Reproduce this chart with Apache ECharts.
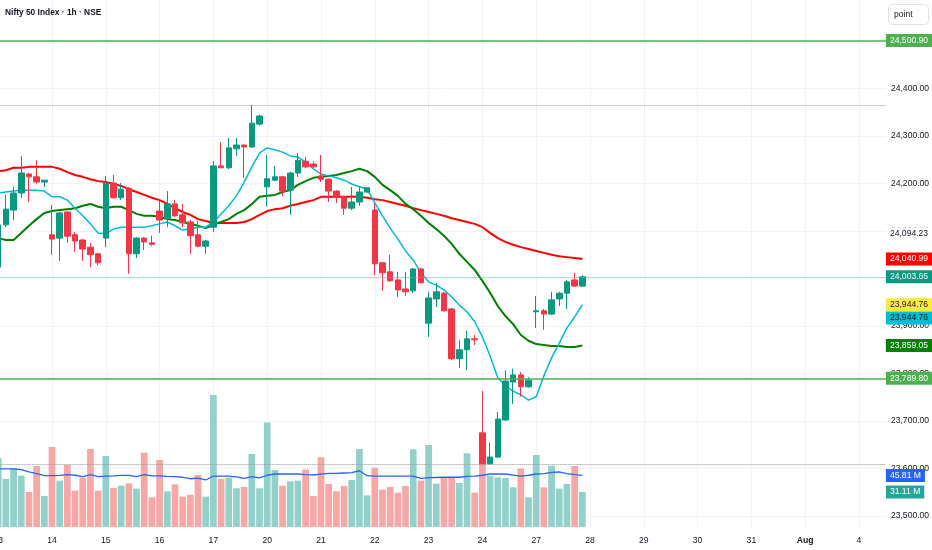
<!DOCTYPE html>
<html><head><meta charset="utf-8">
<script src="https://cdn.jsdelivr.net/npm/echarts@6/dist/echarts.min.js"></script>
<style>html,body{margin:0;padding:0;background:#fff}#c{width:932px;height:550px}</style>
</head><body><div id="c"></div>
<script>
// ---- data ----
const dayLabels = ['13','14','15','16','17','20','21','22','23','24','27'];
const futureLabels = ['28','29','30','31','Aug','4'];
const hours = ['09:15','10:15','11:15','12:15','13:15','14:15','15:15'];

const opens  = [24024,24113,24144,24180,24220,24214,24203, 24092,24085,24140,24092,24081,24066,24052, 24085,24201,24170,24190,24052,24085,24075, 24142,24127,24157,24134,24119,24092,24068, 24108,24237,24233,24273,24281,24277,24325, 24193,24207,24214,24186,24222,24247,24241, 24216,24209,24184,24172,24148,24161,24182, 24144,24033,24014,23997,23978,23974,24020, 23906,23957,23969,23936,23831,23850,23873, 23675,23610,23624,23702,23782,23797,23772, 23930,23932,23925,23957,23969,23997,23984];
const closes = [24113,24146,24180,24222,24214,24203,24207, 24083,24138,24089,24079,24062,24050,24033, 24201,24170,24188,24052,24085,24077,24072, 24123,24157,24132,24117,24090,24068,24079, 24237,24233,24275,24281,24277,24327,24342, 24210,24214,24184,24222,24249,24235,24235, 24209,24184,24172,24148,24161,24182,24191, 24031,24012,23995,23976,23972,24020,23991, 23959,23972,23932,23831,23850,23873,23871, 23610,23624,23704,23784,23797,23772,23786, 23932,23925,23955,23969,23993,23984,24003.65];
const highs  = [24120,24176,24193,24258,24222,24249,24208, 24155,24140,24141,24098,24083,24075,24054, 24216,24218,24201,24192,24087,24087,24090, 24163,24184,24165,24157,24123,24121,24081, 24247,24287,24296,24296,24282,24365,24345, 24260,24237,24216,24225,24264,24256,24247, 24260,24211,24186,24174,24193,24193,24193, 24159,24035,24050,24014,24014,24022,24022, 23972,23991,23972,23938,23871,23890,23881, 23763,23654,23719,23807,23810,23803,23793, 23963,23936,23972,23972,23997,24012,24007];
const lows   = [24010,24108,24123,24169,24161,24200,24193, 24050,24037,24075,24056,24037,24024,24028, 24066,24168,24165,24010,24043,24060,24068, 24096,24108,24130,24108,24052,24066,24052, 24098,24232,24230,24258,24212,24275,24322, 24151,24205,24174,24134,24214,24232,24233, 24203,24161,24159,24134,24144,24153,24180, 24007,23974,23993,23961,23963,23969,23989, 23877,23940,23930,23829,23812,23807,23860, 23608,23608,23622,23700,23736,23751,23770, 23896,23892,23923,23942,23936,23982,23982];

const maFast = [24180,24182,24184,24186,24186,24186,24184,24172,24172,24165,24148,24132,24115,24096,24094,24104,24108,24108,24108,24108,24111,24115,24119,24111,24102,24104,24108,24108,24119,24136,24153,24174,24203,24235,24264,24275,24271,24266,24258,24256,24245,24231,24220,24216,24212,24207,24199,24193,24188,24159,24132,24106,24083,24058,24039,24012,23993,23986,23976,23961,23944,23930,23909,23877,23837,23791,23774,23763,23755,23744,23751,23795,23833,23864,23896,23919,23944.76];
const maMid  = [24085,24081,24081,24096,24111,24125,24138,24142,24144,24146,24148,24153,24157,24151,24148,24151,24151,24144,24136,24132,24132,24130,24125,24123,24119,24115,24111,24106,24113,24119,24125,24136,24144,24157,24172,24174,24176,24182,24186,24197,24205,24212,24214,24216,24218,24222,24226,24231,24226,24214,24197,24186,24174,24157,24146,24132,24117,24104,24090,24073,24052,24035,24018,23995,23970,23942,23921,23904,23881,23869,23862,23860,23858,23858,23856,23856,23859.05];
const maSlow = [24226,24228,24233,24233,24235,24235,24235,24235,24231,24224,24218,24214,24209,24205,24203,24199,24195,24188,24182,24176,24170,24165,24157,24148,24140,24134,24125,24121,24117,24117,24117,24117,24119,24125,24134,24142,24146,24148,24153,24157,24161,24165,24172,24172,24172,24172,24172,24172,24170,24167,24165,24161,24157,24153,24148,24144,24140,24136,24132,24127,24123,24119,24115,24108,24096,24085,24077,24071,24066,24062,24058,24054,24050,24047,24045,24043,24040.99];

const volumesM = [61,42.7,52.4,45.6,31.1,54.2,27.6,71.1,41.2,55.1,32.3,43.9,69.3,32.3,63.1,34.7,36.7,38.8,34.1,66.1,26.4,59.6,31.7,37.9,27,28.7,46.2,27,117.3,42.7,43.9,34.4,35.6,64.9,34.4,93,50.7,36.7,40.6,41.2,51,27.6,62,38.2,31.7,36.4,41.8,69.3,28.1,52.7,33.2,35.6,30.5,36.4,69,41.2,72.9,38.5,43.9,43.9,39.1,65.5,30.5,78.2,45.6,44.1,43.6,35.3,52.1,26.4,64,35.3,54.5,34.1,38.2,54.2,31.11];
const volumeMA = [51.6,51.6,51.6,51,49,47.5,45.6,45.6,45.8,46.5,46,44.7,46.5,44.7,45.3,45.5,45.8,45.8,44.7,46.5,45.5,45.5,45,44.7,44.2,42.9,43.5,41.8,45.3,45.3,45.3,44.5,43.3,44.7,43.6,46,47.1,47.1,47.1,47.1,46.5,46.2,47,47.7,47.7,48,48.3,50,45.6,45.3,45.3,45.3,45.3,45.3,45.3,43.3,43.8,44,44.2,44.2,44.2,45,45.3,46,47.1,47.1,47.1,46.2,45.3,46,47.1,47.5,48.5,48.9,47.5,46.5,45.81];

const priceTicks = [23500,23600,23700,23800,23900,24000,24100,24200,24300,24400];
const levelLines = [24500.90, 23789.80];
const markerLevel = 24094.23;

// ---- build ----
const FONT = "'Liberation Sans', Arial, sans-serif";
const FS = 8.6;
const TXT = '#131722';
const UP = '#089981', DOWN = '#f23645';
const allDays = dayLabels.concat(futureLabels);
const N_SLOTS = 116;
const categories = [];
for (let k = 0; k < N_SLOTS; k++) categories.push(allDays[Math.floor(k / 7)] + ' ' + hours[k % 7]);
const dayStarts = allDays.map((d, i) => i * 7).filter(i => i < N_SLOTS);

function fmt2(v) {
  const s = v.toFixed(2).split('.');
  return s[0].replace(/\B(?=(\d{3})+(?!\d))/g, ',') + '.' + s[1];
}
const candleData = opens.map((o, i) => [o, closes[i], lows[i], highs[i]]);
const volData = volumesM.map((v, i) => ({ value: v, itemStyle: { color: closes[i] >= opens[i] ? '#92d1ca' : '#f7a8a6' } }));
const last = closes.length - 1;
const hi = Math.max.apply(null, highs), lo = Math.min.apply(null, lows);

function tag(value, text, bg, fg) {
  return {
    yAxis: value,
    lineStyle: { color: 'rgba(0,0,0,0)', width: 0, opacity: 1 },
    label: { show: true, position: 'end', distance: 0, formatter: text, color: fg, backgroundColor: bg, opacity: 1,
      padding: [2, 4, 1, 4], fontSize: FS, lineHeight: 10, fontFamily: FONT }
  };
}

const chart = echarts.init(document.getElementById('c'));
chart.setOption({
  animation: false,
  backgroundColor: '#ffffff',
  title: { text: 'Nifty 50 Index · 1h · NSE', left: 5, top: 9, padding: 0,
    textStyle: { fontSize: 8.4, fontWeight: 'bold', color: TXT, fontFamily: FONT } },
  graphic: [
    { type: 'rect', shape: { x: 888.5, y: 4.5, width: 40, height: 20, r: 4 }, style: { fill: '#fff', stroke: '#e0e3eb', lineWidth: 1 } },
    { type: 'text', x: 894, y: 14.5, style: { text: 'point', fontSize: FS, fill: TXT, verticalAlign: 'middle', fontFamily: FONT } }
  ],
  grid: [
    { left: -5.64, right: 46.1, top: 0, bottom: 22, outerBoundsMode: 'none' },
    { left: -5.64, right: 46.1, top: 0, bottom: 23, outerBoundsMode: 'none' }
  ],
  xAxis: [
    { type: 'category', gridIndex: 0, data: categories, boundaryGap: true,
      axisLine: { show: false }, axisTick: { show: false }, splitLine: { show: false },
      axisLabel: { interval: (i) => i % 7 === 0, hideOverlap: false, margin: 8, color: TXT, fontSize: FS, fontFamily: FONT,
        formatter: (v, i) => { const d = allDays[Math.floor(i / 7)]; return d === 'Aug' ? '{b|Aug}' : d; },
        rich: { b: { fontWeight: 'bold', fontSize: FS, fontFamily: FONT, color: TXT } } } },
    { type: 'category', gridIndex: 1, data: categories, boundaryGap: true, show: false }
  ],
  yAxis: [
    { type: 'value', gridIndex: 0, min: 23474.74, max: 24586.3, show: false, splitLine: { show: false } },
    { type: 'value', gridIndex: 1, min: 0, max: 468.4, show: false, splitLine: { show: false } }
  ],
  series: [
    { name: 'grid', type: 'line', xAxisIndex: 0, yAxisIndex: 0, data: [], silent: true,
      markLine: { z: 1, silent: true, symbol: 'none', animation: false,
        lineStyle: { color: '#f0f3fa', width: 1, type: 'solid' },
        label: { show: true, position: 'end', distance: 5, color: TXT, fontSize: FS, fontFamily: FONT, formatter: p => fmt2(p.value) },
        data: priceTicks.map(v => ({ yAxis: v })).concat(dayStarts.map(i => ({ xAxis: i, label: { show: false } }))) } },
    { name: 'Volume', type: 'bar', xAxisIndex: 1, yAxisIndex: 1, data: volData, barWidth: 6.7, z: 2, silent: true,
      markLine: { z: 8, silent: true, symbol: 'none', animation: false,
        data: [ tag(volumeMA[last], fmt2(volumeMA[last]) + ' M', '#2962ff', '#fff'),
                tag(volumesM[last], fmt2(volumesM[last]) + ' M', '#26a69a', '#fff') ] } },
    { name: 'Vol MA', type: 'line', xAxisIndex: 1, yAxisIndex: 1, data: volumeMA, symbol: 'none', z: 3, silent: true,
      lineStyle: { color: '#2962ff', width: 1.3 } },
    { name: 'MA slow', type: 'line', data: maSlow, symbol: 'none', z: 4, silent: true, lineStyle: { color: '#ff0000', width: 2 } },
    { name: 'MA mid', type: 'line', data: maMid, symbol: 'none', z: 4, silent: true, lineStyle: { color: '#008000', width: 2 } },
    { name: 'MA fast', type: 'line', data: maFast, symbol: 'none', z: 4, silent: true, lineStyle: { color: '#00bcd4', width: 1.5 } },
    { name: 'Nifty', type: 'candlestick', data: candleData, barWidth: 6, z: 5, silent: true,
      itemStyle: { color: UP, color0: DOWN, borderColor: UP, borderColor0: DOWN, borderWidth: 1 },
      markLine: { z: 6, silent: true, symbol: 'none', animation: false,
        data: [
          { yAxis: hi, lineStyle: { color: '#9598a1', width: 1, type: 'dotted' }, label: { show: false } },
          { yAxis: lo, lineStyle: { color: '#9598a1', width: 1, type: 'dotted' }, label: { show: false } },
          { yAxis: closes[last], lineStyle: { color: '#5fc0ad', width: 1, type: 'dotted' }, label: { show: false } },
          { yAxis: levelLines[0], lineStyle: { color: '#4caf50', width: 1.5, type: 'solid' }, label: { show: false } },
          { yAxis: levelLines[1], lineStyle: { color: '#4caf50', width: 1.5, type: 'solid' }, label: { show: false } }
        ] } },
    { name: 'tags', type: 'line', data: [], silent: true,
      markLine: { z: 9, silent: true, symbol: 'none', animation: false,
        data: [
          tag(levelLines[0], fmt2(levelLines[0]), '#4caf50', '#fff'),
          tag(markerLevel, fmt2(markerLevel), '#ffffff', TXT),
          tag(maSlow[last], fmt2(maSlow[last]), '#ff0000', '#fff'),
          tag(closes[last], fmt2(closes[last]), UP, '#fff'),
          tag(maFast[last], fmt2(maFast[last]), '#ffeb3b', TXT),
          tag(maFast[last] - 28, fmt2(maFast[last]), '#00bcd4', TXT),
          tag(maMid[last], fmt2(maMid[last]), '#008000', '#fff'),
          tag(levelLines[1], fmt2(levelLines[1]), '#4caf50', '#fff')
        ] } }
  ]
});
</script></body></html>
